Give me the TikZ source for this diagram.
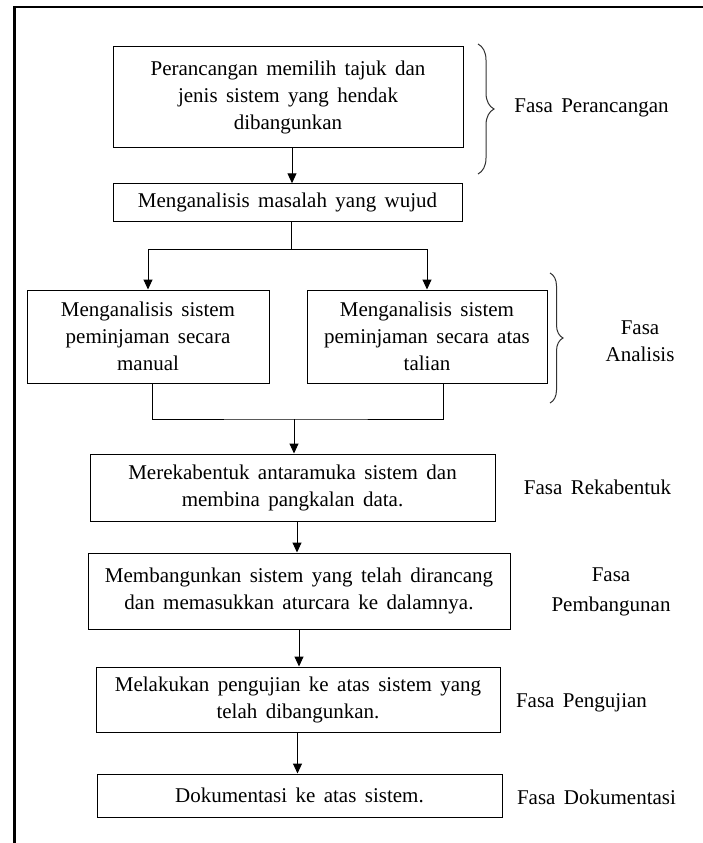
\documentclass[tikz,border=0pt]{standalone}
\usepackage{fontspec}
\setmainfont{Liberation Serif}[WordSpace=1.6]
\usetikzlibrary{arrows.meta,decorations.pathreplacing}
\newcommand{\nl}{\\[3pt]}
\begin{document}
\begin{tikzpicture}[x=1pt,y=-1pt,
  box/.style={draw=black, line width=1pt, inner sep=0pt, align=center,
    font=\fontsize{21}{24}\selectfont, text=black},
  lab/.style={inner sep=0pt, align=center, font=\fontsize{21}{24}\selectfont},
  conn/.style={draw=black, line width=1pt},
  arr/.style={conn, -{Triangle[length=10pt,width=9pt]}},
  brc/.style={draw=black!80, line width=1pt, decorate, decoration={brace, amplitude=#1}},
]
\useasboundingbox (0,0) rectangle (703,843);
\fill[white] (0,0) rectangle (703,843);
\draw[line width=2.5pt] (14.7,843) -- (14.7,7) -- (703,7);

% boxes
\node[box, minimum width=350pt, minimum height=100pt] (b1) at (288,97)
  {Perancangan memilih tajuk dan\nl jenis sistem yang hendak\nl dibangunkan};
\node[box, minimum width=349pt, minimum height=37.5pt] (b2) at (287.5,202.5)
  {Menganalisis masalah yang wujud};
\node[box, minimum width=242pt, minimum height=93pt] (b3l) at (148,336.5)
  {Menganalisis sistem\nl peminjaman secara\nl manual};
\node[box, minimum width=240pt, minimum height=93pt] (b3r) at (427,336.5)
  {Menganalisis sistem\nl peminjaman secara atas\nl talian};
\node[box, minimum width=405pt, minimum height=67pt] (b4) at (292.5,487.5)
  {Merekabentuk antaramuka sistem dan\nl membina pangkalan data.};
\node[box, minimum width=422pt, minimum height=76pt] (b5) at (299,591)
  {Membangunkan sistem yang telah dirancang\nl dan memasukkan aturcara ke dalamnya.};
\node[box, minimum width=404pt, minimum height=65pt] (b6) at (298,699.5)
  {Melakukan pengujian ke atas sistem yang\nl telah dibangunkan.};
\node[box, minimum width=405pt, minimum height=43pt] (b7) at (299.5,795.5)
  {Dokumentasi ke atas sistem.};

% connectors
\draw[arr] ([xshift=4pt]b1.south) -- ([xshift=4pt]b1.south |- b2.north);
\coordinate (split) at (291,249);
\draw[conn] (b2.south -| split) -- (split);
\draw[arr] (split) -| (b3l.north);
\draw[arr] (split) -| (b3r.north);
\coordinate (merge) at (294,419);
\draw[conn] ([xshift=4pt]b3l.south) |- (merge) -| ([xshift=16pt]b3r.south);
\draw[arr] (merge) -- (merge |- b4.north);
\draw[arr] ([xshift=4.5pt]b4.south) -- ([xshift=4.5pt]b4.south |- b5.north);
\draw[arr] (b5.south) -- (b5.south |- b6.north);
\draw[arr] ([xshift=-0.5pt]b6.south) -- ([xshift=-0.5pt]b6.south |- b7.north);

% braces
\coordinate (br1a) at (478,44);
\coordinate (br1b) at (478,174);
\draw[brc=16pt] (br1a) -- (br1b);
\coordinate (br2a) at (550,273);
\coordinate (br2b) at (550,403);
\draw[brc=13pt] (br2a) -- (br2b);

% phase labels
\node[lab] (l1) at (591.5,108) {Fasa Perancangan};
\node[lab] (l2) at (640,341.5) {Fasa\\[3pt]Analisis};
\node[lab] (l3) at (597.5,487) {Fasa Rekabentuk};
\node[lab] (l4) at (611,592) {Fasa\\[6pt]Pembangunan};
\node[lab] (l5) at (581.5,703) {Fasa Pengujian};
\node[lab] (l6) at (596.5,797) {Fasa Dokumentasi};
\end{tikzpicture}
\end{document}
